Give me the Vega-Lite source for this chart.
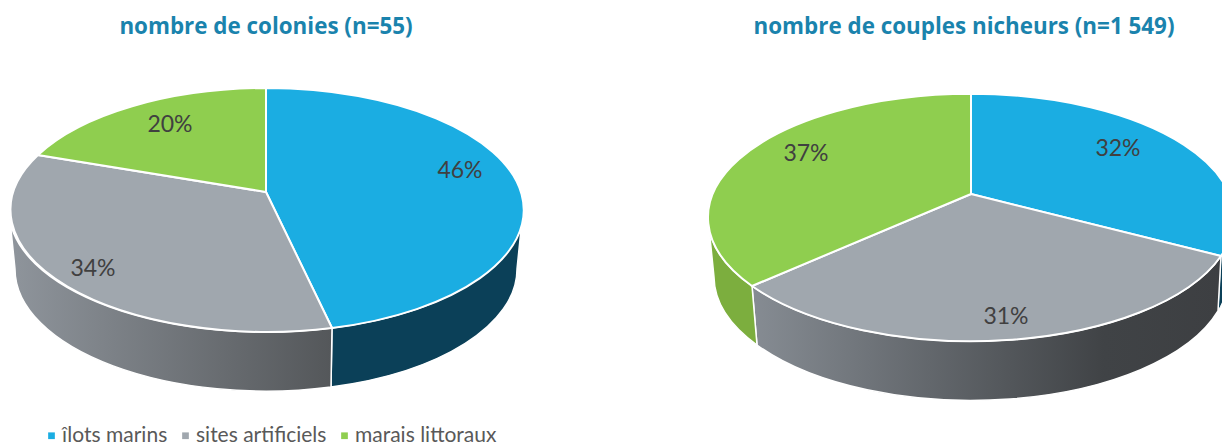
{"$schema":"https://vega.github.io/schema/vega-lite/v6.json","width":1222,"height":445,"padding":0,"autosize":{"type":"none"},"background":"white","config":{"view":{"stroke":null}},
"data":{"values":[
{"pie":"colonies","titre":"nombre de colonies (n=55)","milieu":"îlots marins","part":0.46,"tranche":"c1"},
{"pie":"colonies","titre":"nombre de colonies (n=55)","milieu":"sites artificiels","part":0.34,"tranche":"c2"},
{"pie":"colonies","titre":"nombre de colonies (n=55)","milieu":"marais littoraux","part":0.20,"tranche":"c3"},
{"pie":"couples","titre":"nombre de couples nicheurs (n=1 549)","milieu":"îlots marins","part":0.32,"tranche":"n1"},
{"pie":"couples","titre":"nombre de couples nicheurs (n=1 549)","milieu":"sites artificiels","part":0.31,"tranche":"n2"},
{"pie":"couples","titre":"nombre de couples nicheurs (n=1 549)","milieu":"marais littoraux","part":0.37,"tranche":"n3"}]},
"encoding":{
"x":{"field":"pie","type":"nominal","axis":null,"scale":{"type":"point","padding":0,"domain":["colonies","couples"],"range":[266,971]}},
"y":{"field":"pie","type":"nominal","axis":null,"scale":{"type":"point","padding":0,"domain":["colonies","couples"],"range":[192,194]}}},
"layer":[
{"transform":[{"filter":"datum.tranche=='c1'"}],"mark":{"type":"point","filled":true,"opacity":1,"size":4,"stroke":"white","strokeWidth":1.5,"fill":"#0b4058","shape":"M66,136 L65,195 A251,122 0 0 0 251,77 L257,18 A257,122 0 0 1 66,136 Z"}},
{"transform":[{"filter":"datum.tranche=='c2'"}],"mark":{"type":"point","filled":true,"opacity":1,"size":4,"stroke":"white","strokeWidth":1.5,"fill":{"gradient":"linear","x1":0,"y1":0,"x2":1,"y2":0,"stops":[{"offset":0,"color":"#8f959c"},{"offset":1,"color":"#54575a"}]},"shape":"M66,136 L65,195 A251,122 0 0 1 -251,77 L-257,18 A257,122 0 0 0 66,136 Z"}},
{"transform":[{"filter":"datum.tranche=='n1'"}],"mark":{"type":"point","filled":true,"opacity":1,"size":4,"stroke":"white","strokeWidth":1,"fill":"#0b4058","shape":"M250,62 L247,117 A257,124 0 0 0 257,83 L263,23.5 A263,123.7 0 0 1 250,62 Z"}},
{"transform":[{"filter":"datum.tranche=='n2'"}],"mark":{"type":"point","filled":true,"opacity":1,"size":4,"stroke":"white","strokeWidth":1.5,"fill":{"gradient":"linear","x1":0,"y1":0,"x2":1,"y2":0,"stops":[{"offset":0,"color":"#868c93"},{"offset":0.75,"color":"#404346"},{"offset":1,"color":"#3d3f42"}]},"shape":"M250,62 L247,117 A257,124 0 0 1 -214,151 L-219,92 A263,123.7 0 0 0 250,62 Z"}},
{"transform":[{"filter":"datum.tranche=='n3'"}],"mark":{"type":"point","filled":true,"opacity":1,"size":4,"stroke":"white","strokeWidth":1.5,"fill":"#7cae3e","shape":"M-219,92 L-214,151 A257,124 0 0 1 -257,83 L-263,23.5 A263,123.7 0 0 0 -219,92 Z"}},
{"mark":{"type":"point","filled":true,"opacity":1,"size":4,"stroke":"white","strokeWidth":2},
"encoding":{
"shape":{"field":"tranche","type":"nominal","legend":null,"scale":{"domain":["c1","c2","c3","n1","n2","n3"],"range":[
"M0,0 L0,-104 A257,122 0 0 1 66,136 Z",
"M0,0 L66,136 A257,122 0 0 1 -228,-37 Z",
"M0,0 L-228,-37 A257,122 0 0 1 0,-104 Z",
"M0,0 L0,-100.2 A263,123.7 0 0 1 250,62 Z",
"M0,0 L250,62 A263,123.7 0 0 1 -219,92 Z",
"M0,0 L-219,92 A263,123.7 0 0 1 0,-100.2 Z"]}},
"fill":{"field":"milieu","type":"nominal","scale":{"domain":["îlots marins","sites artificiels","marais littoraux"],"range":["#1badE2","#a0a7ae","#8fce4f"]},
"legend":{"title":null,"orient":"none","legendX":41,"legendY":425,"direction":"horizontal","columns":3,"symbolType":"square","symbolSize":45,"symbolStrokeWidth":0,"labelFont":"Lato","labelFontSize":21,"labelColor":"#595959","columnPadding":7,"labelOffset":0,"labelLimit":300}}}},
{"transform":[{"filter":"datum.tranche=='c1'"}],"mark":{"type":"text","font":"Lato","fontSize":23,"color":"#404040","dx":194,"dy":-21},"encoding":{"text":{"field":"part","type":"quantitative","format":".0%"}}},
{"transform":[{"filter":"datum.tranche=='c2'"}],"mark":{"type":"text","font":"Lato","fontSize":23,"color":"#404040","dx":-173,"dy":77},"encoding":{"text":{"field":"part","type":"quantitative","format":".0%"}}},
{"transform":[{"filter":"datum.tranche=='c3'"}],"mark":{"type":"text","font":"Lato","fontSize":23,"color":"#404040","dx":-96,"dy":-67},"encoding":{"text":{"field":"part","type":"quantitative","format":".0%"}}},
{"transform":[{"filter":"datum.tranche=='n1'"}],"mark":{"type":"text","font":"Lato","fontSize":23,"color":"#404040","dx":147,"dy":-45},"encoding":{"text":{"field":"part","type":"quantitative","format":".0%"}}},
{"transform":[{"filter":"datum.tranche=='n2'"}],"mark":{"type":"text","font":"Lato","fontSize":23,"color":"#404040","dx":35,"dy":123},"encoding":{"text":{"field":"part","type":"quantitative","format":".0%"}}},
{"transform":[{"filter":"datum.tranche=='n3'"}],"mark":{"type":"text","font":"Lato","fontSize":23,"color":"#404040","dx":-165,"dy":-40},"encoding":{"text":{"field":"part","type":"quantitative","format":".0%"}}},
{"transform":[{"filter":"datum.tranche=='c1'"}],"mark":{"type":"text","font":"Open Sans","fontWeight":"bold","fontSize":22.4,"color":"#1a83ad"},"encoding":{"text":{"field":"titre"},"y":{"value":27}}},
{"transform":[{"filter":"datum.tranche=='n1'"}],"mark":{"type":"text","font":"Open Sans","fontWeight":"bold","fontSize":22.4,"color":"#1a83ad","dx":-7},"encoding":{"text":{"field":"titre"},"y":{"value":27}}}
]}
